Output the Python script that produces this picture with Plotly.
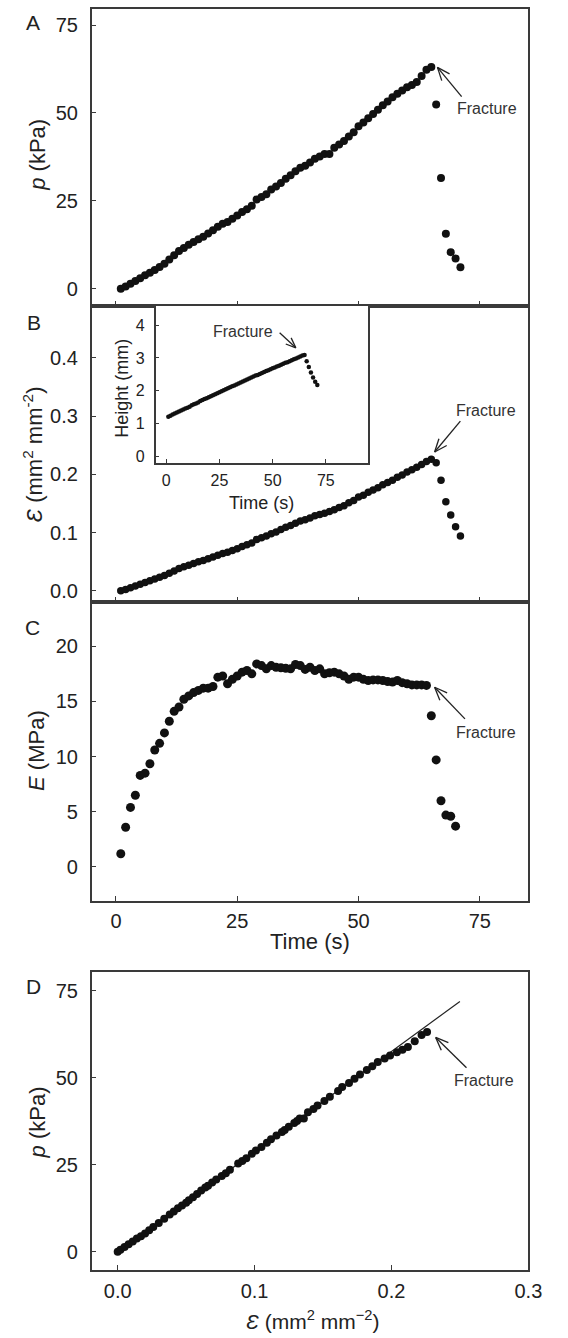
import math
import plotly.graph_objects as go

# ---------------- data ----------------
time_s = list(range(1, 72))            # 1 .. 71 s
pressure_kpa = [0.0, 0.6, 1.4, 2.2, 3.0, 3.8, 4.5, 5.3, 6.2, 7.1,
                8.3, 9.5, 10.7, 11.6, 12.5, 13.3, 14.1, 14.8, 15.7, 16.6,
                17.6, 18.5, 19.0, 19.9, 20.8, 21.8, 22.6, 23.6, 25.4, 26.1,
                26.9, 28.2, 29.1, 30.1, 31.3, 32.3, 33.4, 34.4, 35.0, 35.9,
                37.0, 37.6, 38.3, 38.3, 40.1, 41.0, 42.0, 43.3, 44.5, 46.2,
                47.3, 48.5, 49.7, 50.9, 52.2, 53.3, 54.5, 55.5, 56.4, 57.3,
                58.0, 58.8, 60.5, 62.3, 63.1, 52.4, 31.5, 15.6, 10.4, 8.6,
                6.1]
area_strain = [0.000, 0.002, 0.005, 0.008, 0.011, 0.014, 0.017, 0.020, 0.023, 0.026,
               0.030, 0.034, 0.038, 0.041, 0.044, 0.047, 0.050, 0.052, 0.055, 0.058,
               0.061, 0.064, 0.066, 0.069, 0.072, 0.076, 0.079, 0.082, 0.088, 0.091,
               0.094, 0.098, 0.101, 0.105, 0.109, 0.112, 0.116, 0.120, 0.122, 0.125,
               0.129, 0.131, 0.133, 0.136, 0.139, 0.143, 0.146, 0.151, 0.155, 0.161,
               0.164, 0.169, 0.173, 0.177, 0.182, 0.186, 0.190, 0.195, 0.199, 0.204,
               0.208, 0.212, 0.217, 0.222, 0.226, 0.220, 0.190, 0.153, 0.130, 0.110,
               0.094]
height_mm = [1.20, 1.23, 1.27, 1.30, 1.33, 1.36, 1.39, 1.42, 1.45, 1.48,
             1.51, 1.55, 1.58, 1.61, 1.64, 1.68, 1.71, 1.74, 1.77, 1.80,
             1.83, 1.86, 1.89, 1.92, 1.95, 1.98, 2.01, 2.04, 2.07, 2.10,
             2.13, 2.16, 2.19, 2.22, 2.25, 2.28, 2.31, 2.34, 2.37, 2.40,
             2.43, 2.46, 2.48, 2.51, 2.54, 2.57, 2.60, 2.62, 2.65, 2.68,
             2.71, 2.74, 2.76, 2.79, 2.82, 2.85, 2.87, 2.90, 2.93, 2.96,
             2.98, 3.01, 3.04, 3.07, 3.09, 2.90, 2.72, 2.55, 2.40, 2.27,
             2.17]
modulus_time_s = list(range(1, 71))    # 1 .. 70 s
modulus_mpa = [1.2, 3.6, 5.4, 6.5, 8.3, 8.5, 9.35, 10.6, 11.2, 12.15,
               13.2, 14.1, 14.5, 15.2, 15.5, 15.8, 16.0, 16.2, 16.2, 16.35,
               17.2, 17.3, 16.6, 17.0, 17.3, 17.65, 17.8, 17.5, 18.4, 18.25,
               17.95, 18.25, 18.1, 18.05, 18.0, 17.95, 18.35, 18.25, 17.9, 18.1,
               17.8, 17.95, 17.5, 17.6, 17.65, 17.5, 17.3, 17.0, 17.2, 17.2,
               17.0, 16.9, 16.95, 16.95, 16.9, 16.8, 16.75, 16.9, 16.7, 16.6,
               16.5, 16.5, 16.5, 16.45, 13.7, 9.7, 6.0, 4.7, 4.6, 3.7]
n_before_fracture = 65                 # points up to the fracture (t <= 65 s)
fit_strain = [0.0, 0.25]
fit_pressure = [0.0, 71.9]

time_ticks = [0, 25, 50, 75]
p_ticks = [0, 25, 50, 75]
strain_ticks = [0.0, 0.1, 0.2, 0.3, 0.4]
modulus_ticks = [0, 5, 10, 15, 20]
strain_x_ticks = [0.0, 0.1, 0.2, 0.3]
height_ticks = [0, 1, 2, 3, 4]

# ---------------- figure ----------------
W, H = 568, 1338
FONT = "Liberation Sans, Arial, sans-serif"
INK = "#222222"
LINE = "#3a3a3a"


def px(x):
    return x / W


def py(y):
    return 1 - y / H


fig = go.Figure()
mk = dict(color="#111111", line=dict(width=0))

fig.add_trace(go.Scatter(x=time_s, y=pressure_kpa, mode="markers",
                         marker=dict(size=8, **mk), xaxis="x", yaxis="y"))
fig.add_trace(go.Scatter(x=time_s, y=area_strain, mode="markers",
                         marker=dict(size=7.5, **mk), xaxis="x2", yaxis="y2"))
fig.add_trace(go.Scatter(x=modulus_time_s, y=modulus_mpa, mode="markers",
                         marker=dict(size=9, **mk), xaxis="x3", yaxis="y3"))
fig.add_trace(go.Scatter(x=fit_strain, y=fit_pressure, mode="lines",
                         line=dict(color=INK, width=1.2), xaxis="x4", yaxis="y4"))
fig.add_trace(go.Scatter(x=area_strain[:n_before_fracture],
                         y=pressure_kpa[:n_before_fracture], mode="markers",
                         marker=dict(size=8, **mk), xaxis="x4", yaxis="y4"))
fig.add_trace(go.Scatter(x=time_s, y=height_mm, mode="markers",
                         marker=dict(size=4.5, **mk), xaxis="x5", yaxis="y5"))

base = dict(showline=True, linecolor=LINE, linewidth=1.5, mirror=True,
            ticks="inside", ticklen=5, tickwidth=1.2, tickcolor=LINE,
            showgrid=False, zeroline=False,
            tickfont=dict(family=FONT, size=20, color=INK))
small = dict(base, tickfont=dict(family=FONT, size=16, color=INK), ticklen=4)

xdom = [px(94), px(541.7)]
fig.update_layout(
    width=W, height=H, margin=dict(l=0, r=0, t=0, b=0),
    paper_bgcolor="white", plot_bgcolor="white", showlegend=False,
    xaxis=dict(base, domain=xdom, range=[-5, 85], tickvals=time_ticks,
               showticklabels=False, anchor="y"),
    yaxis=dict(base, domain=[py(306), py(9)], range=[-4.8, 79.6],
               tickvals=p_ticks, anchor="x", ticklabelstandoff=8),
    xaxis2=dict(base, domain=xdom, range=[-5, 85], tickvals=time_ticks,
                showticklabels=False, anchor="y2"),
    yaxis2=dict(base, domain=[py(602.7), py(306)], range=[-0.019, 0.49],
                tickvals=strain_ticks, tickformat=".1f", anchor="x2",
                ticklabelstandoff=8),
    xaxis3=dict(base, domain=xdom, range=[-5, 85], tickvals=time_ticks,
                anchor="y3", ticklabelstandoff=2),
    yaxis3=dict(base, domain=[py(902), py(603)], range=[-3.05, 24],
                tickvals=modulus_ticks, anchor="x3", ticklabelstandoff=8),
    xaxis4=dict(base, domain=xdom, range=[-0.019, 0.3], tickvals=strain_x_ticks,
                tickformat=".1f", anchor="y4", ticklabelstandoff=2),
    yaxis4=dict(base, domain=[py(1271.7), py(973.3)], range=[-5.16, 80.4],
                tickvals=p_ticks, anchor="x4", ticklabelstandoff=8),
    xaxis5=dict(small, domain=[px(159.5), px(377.7)], range=[-5, 95],
                tickvals=time_ticks, anchor="y5", ticklabelstandoff=2),
    yaxis5=dict(small, domain=[py(463.3), py(306)], range=[-0.2, 4.6],
                tickvals=height_ticks, anchor="x5", ticklabelstandoff=6),
)


def text(x, y, s, size, angle=0, color=INK):
    fig.add_annotation(x=px(x), y=py(y), xref="paper", yref="paper", text=s,
                       showarrow=False, textangle=angle, xanchor="center",
                       yanchor="middle", font=dict(family=FONT, size=size, color=color))


# panel letters
for lab, (x, y) in zip("ABCD", [(33.6, 23), (34.4, 323), (33.5, 628), (34.4, 988)]):
    text(x, y, lab, 21)

# axis titles
text(39, 155, "<i>p</i> (kPa)", 22, -90)
text(34, 455, "<i>Ɛ</i> (mm<sup>2</sup> mm<sup>-2</sup>)", 22, -90)
text(38, 752, "<i>E</i> (MPa)", 22, -90)
text(38, 1124, "<i>p</i> (kPa)", 22, -90)
text(318, 943, "Time (s)", 22)
text(320, 1322, "<i>Ɛ</i> (mm<sup>2</sup> mm<sup>−2</sup>)", 21)
text(125.5, 389, "Height (mm)", 18, -90)
text(268.5, 504, "Time (s)", 18)


# "Fracture" pointers: open arrow heads drawn as thin line shapes (pixel layout)
def arrow(tip, tail, barb=14, ang=22):
    tx, ty = tip
    dx, dy = tail[0] - tx, tail[1] - ty
    style = dict(type="line", xref="paper", yref="paper",
                 line=dict(color=INK, width=1.3))
    fig.add_shape(x0=px(tx), y0=py(ty), x1=px(tail[0]), y1=py(tail[1]), **style)
    L = math.hypot(dx, dy)
    ux, uy = dx / L, dy / L
    for a in (math.radians(ang), math.radians(-ang)):
        bx = ux * math.cos(a) - uy * math.sin(a)
        by = ux * math.sin(a) + uy * math.cos(a)
        fig.add_shape(x0=px(tx), y0=py(ty), x1=px(tx + bx * barb),
                      y1=py(ty + by * barb), **style)


arrow((448.5, 67.5), (473.3, 96.7))
text(498.8, 108.3, "Fracture", 16, color="#333")
arrow((445.6, 452.7), (472, 421.7))
text(498.6, 411, "Fracture", 16, color="#333")
arrow((445.6, 688.3), (476.7, 720))
text(497.8, 733.3, "Fracture", 16, color="#333")
arrow((446.7, 1039), (478.3, 1069.3))
text(496.7, 1081.7, "Fracture", 16, color="#333")
arrow((303.3, 348.3), (286.7, 333.3), barb=11)
text(249.3, 332.3, "Fracture", 16, color="#333")

fig.write_html("out.html",
               config={"displayModeBar": False},
               post_script="document.body.style.margin='0px';"
                           "document.body.style.overflow='hidden';")
